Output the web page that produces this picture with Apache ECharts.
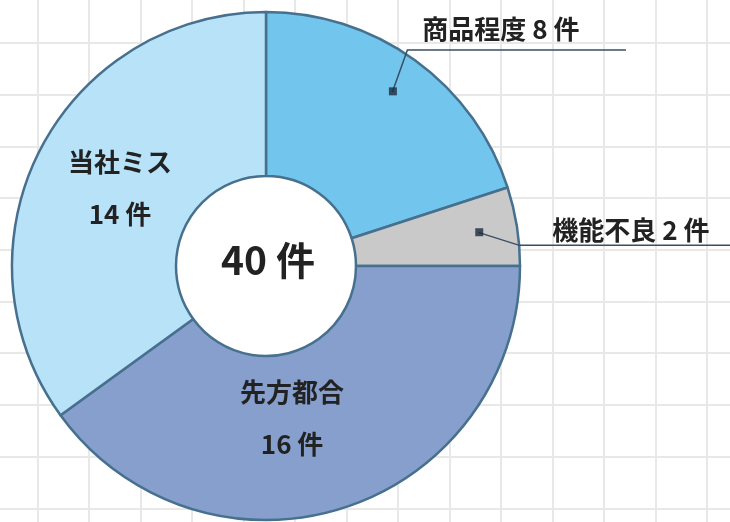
<!DOCTYPE html>
<html>
<head>
<meta charset="utf-8">
<script src="https://cdn.jsdelivr.net/npm/echarts@6/dist/echarts.min.js"></script>
<style>
  html, body { margin: 0; padding: 0; background: #fff; }
  #chart { width: 730px; height: 522px; }
</style>
</head>
<body>
<div id="chart"></div>
<script>
// data
var categories = ['商品程度', '機能不良', '先方都合', '当社ミス'];
var counts = [8, 2, 16, 14];
var sliceColors = ['#72c5ec', '#c9c9c9', '#879fcc', '#b8e2f8'];
var outsideLabels = ['商品程度', '機能不良'];

document.addEventListener('DOMContentLoaded', function () {
  var chart = echarts.init(document.getElementById('chart'));
  var FONT = '"Noto Sans CJK JP", "Noto Sans", sans-serif';
  var CX = 266, CY = 266;

  var total = counts.reduce(function (a, b) { return a + b; }, 0);

  // cumulative middle of each slice, used for the little square markers
  var mids = [];
  var run = 0;
  counts.forEach(function (v) { mids.push(run + v / 2); run += v; });

  // leader line shape: bend offset from marker, end x of underline, text offset from bend
  var leader = {
    '商品程度': { bend: [15, -42], endX: 626, text: [15, -21] },
    '機能不良': { bend: [41, 13], endX: 730, text: [33, -15] }
  };

  var mainData = categories.map(function (name, i) {
    var inside = outsideLabels.indexOf(name) < 0;
    var item = {
      name: name,
      value: counts[i],
      itemStyle: { color: sliceColors[i] },
      label: { show: inside }
    };
    if (name === '先方都合') item.label.offset = [-28, -14];
    if (name === '当社ミス') item.label.offset = [10, 2];
    return item;
  });

  var lineData = categories.map(function (name, i) {
    var outside = outsideLabels.indexOf(name) >= 0;
    return {
      name: name,
      value: counts[i],
      label: { show: outside },
      labelLine: { show: outside }
    };
  });

  var option = {
    backgroundColor: '#ffffff',
    animation: false,
    // background grid paper
    grid: { left: -14, top: -8.7, width: 772.5, height: 568.7, show: false, outerBoundsMode: 'none' },
    xAxis: {
      type: 'value', min: 0, max: 15, interval: 1,
      axisLine: { show: false }, axisTick: { show: false }, axisLabel: { show: false },
      splitLine: { show: true, lineStyle: { color: '#e8e8e8', width: 2 } }
    },
    yAxis: {
      type: 'value', min: 0, max: 11, interval: 1,
      axisLine: { show: false }, axisTick: { show: false }, axisLabel: { show: false },
      splitLine: { show: true, lineStyle: { color: '#e8e8e8', width: 2 } }
    },
    polar: { center: [CX, CY], radius: 254 },
    angleAxis: { type: 'value', min: 0, max: total, startAngle: 90, clockwise: true, show: false },
    radiusAxis: { type: 'value', min: 0, max: 1, show: false },
    series: [
      {
        // white hole with the total
        type: 'pie',
        center: [CX, CY],
        radius: [0, 90],
        silent: true,
        z: 1,
        data: [{ name: '合計', value: total, itemStyle: { color: '#ffffff' } }],
        label: {
          show: true, position: 'center',
          formatter: function () { return total + ' 件'; },
          fontFamily: FONT, fontSize: 39, fontWeight: 'bold', color: '#222',
          offset: [2, -6]
        },
        labelLine: { show: false }
      },
      {
        type: 'pie',
        center: [CX, CY],
        radius: [90, 254],
        startAngle: 90,
        clockwise: true,
        silent: true,
        z: 2,
        data: mainData,
        itemStyle: { borderColor: '#46708e', borderWidth: 2.5 },
        label: {
          position: 'inside',
          formatter: '{b}\n{c} 件',
          fontFamily: FONT, fontSize: 26, fontWeight: 'bold', color: '#222',
          lineHeight: 52
        },
        labelLine: { show: false }
      },
      {
        // invisible copy that carries the outside leader lines
        type: 'pie',
        center: [CX, CY],
        radius: [0, 215],
        startAngle: 90,
        clockwise: true,
        silent: true,
        z: 3,
        data: lineData,
        itemStyle: { color: 'rgba(0,0,0,0)', borderWidth: 0 },
        label: {
          position: 'outside',
          overflow: 'none',
          formatter: '{b} {c} 件',
          fontFamily: FONT, fontSize: 26, fontWeight: 'bold', color: '#222'
        },
        labelLine: { length: 40, length2: 100, lineStyle: { color: '#3b4e62', width: 1.5 } },
        labelLayout: function (params) {
          var name = categories[params.dataIndex];
          var cfg = leader[name];
          var pts = params.labelLinePoints;
          if (!cfg || !pts) return {};
          var p0 = pts[0];
          var p1 = [p0[0] + cfg.bend[0], p0[1] + cfg.bend[1]];
          var p2 = [cfg.endX, p1[1]];
          return {
            x: p1[0] + cfg.text[0],
            y: p1[1] + cfg.text[1],
            align: 'left',
            verticalAlign: 'middle',
            width: 220,
            labelLinePoints: [p0, p1, p2]
          };
        }
      },
      {
        type: 'scatter',
        coordinateSystem: 'polar',
        symbol: 'rect',
        symbolSize: 8,
        silent: true,
        z: 4,
        itemStyle: { color: '#1c2a3f' },
        data: outsideLabels.map(function (name) {
          return [0.85, mids[categories.indexOf(name)]];
        })
      }
    ]
  };

  chart.setOption(option);
});
</script>
</body>
</html>
